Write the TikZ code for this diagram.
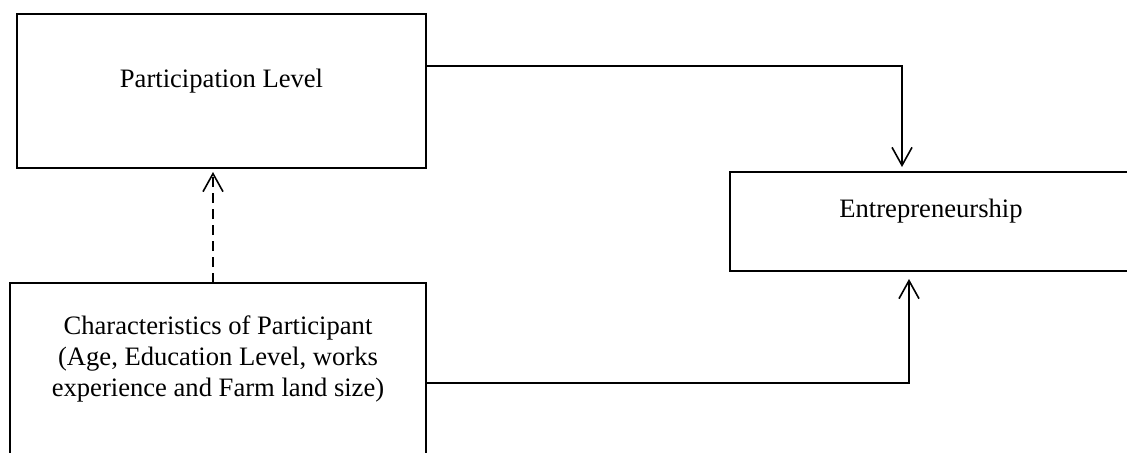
\documentclass[tikz,border=0pt]{standalone}
\usepackage{fontspec}
\setmainfont{Liberation Serif}
\usetikzlibrary{arrows.meta}

\begin{document}
\begin{tikzpicture}[x=0.5pt, y=-0.5pt,
  every node/.style={font=\fontsize{13.3}{15.3}\selectfont},
  box/.style={rectangle, draw, line width=1pt, inner sep=0pt, outer sep=0pt},
  caption/.style={align=center, yshift=5pt},
  flow/.style={line width=0.8pt, -{Straight Barb[length=9pt,width=10pt]}}]

\useasboundingbox (0,0) rectangle (1127,452);

\node[box, minimum width=204.5pt, minimum height=77pt,
      label={[caption]center:Participation Level}] (part) at (221.5,91) {};
\node[box, minimum width=201pt, minimum height=49.5pt,
      label={[caption]center:Entrepreneurship}] (ent) at (931,221.5) {};
\node[box, minimum width=208pt, minimum height=86pt,
      label={[caption]center:{Characteristics of Participant\\
        (Age, Education Level, works\\experience and Farm land size)}}] (char) at (218,369) {};

% links
\draw[flow, dash pattern=on 5pt off 3pt, shorten >=2pt]
  ([xshift=-2.5pt]char.north) coordinate (up) -- (up |- part.south);
\draw[flow, shorten >=2.5pt] ([yshift=12.5pt]part.east) -| ([xshift=-14.5pt]ent.north);
\draw[flow, shorten >=4pt] ([yshift=-7pt]char.east) -| ([xshift=-11pt]ent.south);
\end{tikzpicture}
\end{document}
